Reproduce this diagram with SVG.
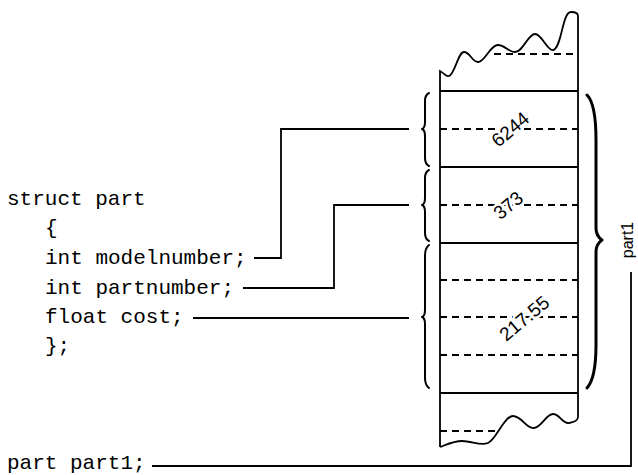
<svg xmlns="http://www.w3.org/2000/svg" width="638" height="475" viewBox="0 0 638 475">
<style>
.code{font-family:"Liberation Mono","Courier New",monospace;font-size:21px;fill:#000}
.num{font-family:"Liberation Sans",Arial,sans-serif;font-size:19px;fill:#000;stroke:#fff;stroke-width:5;paint-order:stroke;stroke-linejoin:round}
.lbl{font-family:"Liberation Sans",Arial,sans-serif;font-size:16px;fill:#000}
.solid{stroke:#000;stroke-width:1.8;fill:none}
.dash{stroke:#000;stroke-width:1.8;fill:none;stroke-dasharray:7 5}
.brace{stroke:#000;stroke-width:2;fill:none;stroke-linecap:round;stroke-linejoin:round}
.conn{stroke:#000;stroke-width:1.8;fill:none}
</style>
<rect width="638" height="475" fill="#fff"/>
<g id="code">
<text class="code" x="7" y="205">struct part</text>
<text class="code" x="45" y="234">{</text>
<text class="code" x="45" y="264">int modelnumber;</text>
<text class="code" x="45" y="294">int partnumber;</text>
<text class="code" x="45" y="323">float cost;</text>
<text class="code" x="45" y="352">};</text>
<text class="code" x="7" y="469">part part1;</text>
</g>
<g id="memory">
<path class="solid" d="M440,447 L440,71 C444,73 446,77 449,76 C455,74 458,52 464,52 C470,52 472,62 478,62 C485,62 490,45 498,45 C505,45 508,52 515,52 C523,52 528,34 535,34 C542,34 547,51 553,50 C562,48 562,12 571,12 C576,12 578,14 578,16 L578,417"/>
<path class="solid" d="M440,447 C448,444 454,441 462,441 C472,441 480,446 488,443 C496,440 504,416 513,416 C522,416 526,429 534,428 C542,427 546,414 553,414 C560,414 562,424 569,423 C575,422 578,420 578,417"/>
<line class="dash" x1="494" y1="54" x2="578" y2="54"/>
<line class="solid" x1="440" y1="91" x2="578" y2="91"/>
<line class="dash" x1="440" y1="129" x2="578" y2="129"/>
<line class="solid" x1="440" y1="167" x2="578" y2="167"/>
<line class="dash" x1="440" y1="205" x2="578" y2="205"/>
<line class="solid" x1="440" y1="243" x2="578" y2="243"/>
<line class="dash" x1="440" y1="280" x2="578" y2="280"/>
<line class="dash" x1="440" y1="317" x2="578" y2="317"/>
<line class="dash" x1="440" y1="355" x2="578" y2="355"/>
<line class="solid" x1="440" y1="393" x2="578" y2="393"/>
<line class="dash" x1="440" y1="431" x2="497" y2="431"/>
<text class="num" x="510" y="136" text-anchor="middle" transform="rotate(-40 510 129)">6244</text>
<text class="num" x="508" y="212" text-anchor="middle" transform="rotate(-40 508 205)">373</text>
<text class="num" x="524" y="325" text-anchor="middle" transform="rotate(-40 524 318)">217.55</text>
</g>
<g id="braces">
<path class="brace" d="M429,93 Q425,95 425,101 L425,122 Q425,128 422,129 Q425,130 425,136 L425,158 Q425,164 429,166"/>
<path class="brace" d="M429,170 Q425,172 425,178 L425,198 Q425,204 422,205 Q425,206 425,212 L425,233 Q425,239 429,241"/>
<path class="brace" d="M429,245 Q425,248 425,256 L425,310 Q425,316 422,317 Q425,318 425,324 L425,378 Q425,385 429,388"/>
<path class="brace" style="stroke-width:3" d="M587,95 Q596,104 596,140 L596,228 Q596,236 602,240 Q596,244 596,252 L596,345 Q596,378 587,388"/>
</g>
<g id="part1">
<text class="lbl" x="0" y="0" text-anchor="middle" transform="translate(633 240) rotate(-90)">part1</text>
</g>
<g id="connectors">
<polyline class="conn" points="254,258 281,258 281,129 409,129"/>
<polyline class="conn" points="243,288 334,288 334,205 409,205"/>
<polyline class="conn" points="193,318 409,318"/>
<polyline class="conn" points="152,466 631,466 631,272"/>
</g>
</svg>
